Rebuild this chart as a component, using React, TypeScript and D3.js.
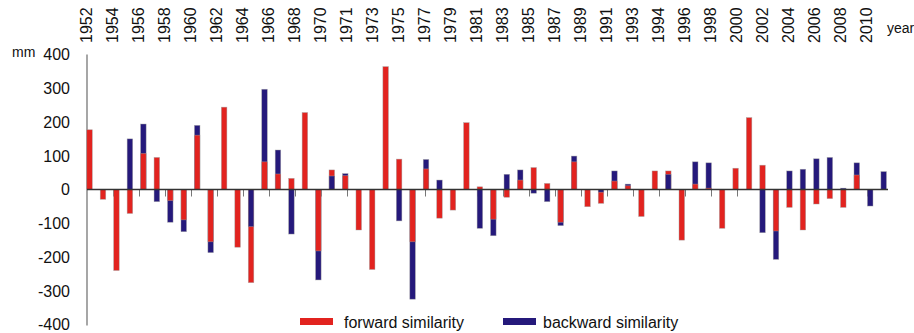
import React from 'react';
import * as d3 from 'd3';

const years = [
  1952, 1953, 1954, 1955, 1956, 1957, 1958, 1959, 1960, 1961,
  1962, 1963, 1964, 1965, 1966, 1967, 1968, 1969, 1970, 1971,
  1972, 1973, 1974, 1975, 1976, 1977, 1978, 1979, 1980, 1981,
  1982, 1983, 1984, 1985, 1986, 1987, 1988, 1989, 1990, 1991,
  1992, 1993, 1994, 1995, 1996, 1997, 1998, 1999, 2000, 2001,
  2002, 2003, 2004, 2005, 2006, 2007, 2008, 2009, 2010, 2011,
];

// forward similarity (mm)
const forward = [
  177, -29, -240, -71, 107, 95, -33, -90, 161, -155,
  244, -171, -276, 82, 46, 33, 228, -182, 58, 41,
  -120, -237, 364, 90, -155, 61, -85, -61, 198, 8,
  -88, -23, 28, 65, 18, -97, 82, -51, -41, 25,
  11, -80, 55, 55, -150, 16, 4, -115, 63, 213,
  72, -123, -53, -120, -43, -27, -53, 43, 0, 0,
];

// backward similarity (mm)
const backward = [
  0, 0, 0, 150, 194, -36, -97, -125, 190, -187,
  0, 0, -110, 297, 117, -132, 0, -268, 40, 47,
  0, 0, 0, -93, -325, 89, 28, 0, 0, -115,
  -137, 45, 58, -11, -36, -107, 99, 0, -8, 55,
  16, 0, 0, 45, 0, 82, 79, 0, 0, 0,
  -128, -207, 55, 60, 91, 95, 4, 79, -49, 53,
];

// labels printed along the top (evenly spaced, every other slot)
const topLabels = [
  '1952', '1954', '1956', '1958', '1960', '1962', '1964', '1966', '1968', '1970',
  '1971', '1973', '1975', '1977', '1979', '1981', '1983', '1985', '1987', '1989',
  '1991', '1993', '1994', '1996', '1998', '2000', '2002', '2004', '2006', '2008',
  '2010',
];

const yTicks = [400, 300, 200, 100, 0, -100, -200, -300, -400];

const RED = '#e2231f';
const BLUE = '#25197b';
const FONT = '"Liberation Sans", Arial, sans-serif';

export default function App() {
  const width = 914;
  const height = 333;
  const axisX = 87;

  const y = d3.scaleLinear().domain([-400, 400]).range([324.5, 54.5]);

  const x = d3
    .scaleBand<number>()
    .domain(years)
    .range([82.8, 890.4])
    .paddingInner(0.59)
    .paddingOuter(0.295);

  const xLab = d3.scalePoint<string>().domain(topLabels).range([87, 867]);

  // longer bar drawn first, shorter one sits in front
  const bars = years.flatMap((yr, i) => {
    const pair = [
      { key: 'f', color: RED, v: forward[i] },
      { key: 'b', color: BLUE, v: backward[i] },
    ];
    pair.sort((a, b) => Math.abs(b.v) - Math.abs(a.v));
    return pair.filter((d) => d.v !== 0).map((d) => ({ ...d, yr }));
  });

  const y0 = y(0);

  return (
    <svg
      width={width}
      height={height}
      style={{ position: 'absolute', left: 0, top: 0, background: '#fff' }}
      fontFamily={FONT}
    >
      {/* top year labels */}
      {topLabels.map((t) => (
        <text
          key={t}
          transform={`translate(${xLab(t)! - 1},43) rotate(-90)`}
          dy="0.35em"
          fontSize={16}
          fill="#111"
        >
          {t}
        </text>
      ))}
      <text x={887} y={33} fontSize={14} fill="#111">
        year
      </text>

      {/* y axis */}
      <text x={12} y={57} fontSize={14} fill="#111">
        mm
      </text>
      {yTicks.map((t) => (
        <text
          key={t}
          x={70}
          y={y(t)}
          dy="0.36em"
          textAnchor="end"
          fontSize={16}
          fill="#111"
        >
          {t}
        </text>
      ))}
      <line x1={axisX} x2={axisX} y1={y(400)} y2={y(-400) + 1} stroke="#777" strokeWidth={1.3} />

      {/* small ticks below zero line */}
      {topLabels.slice(1).map((t) => (
        <line
          key={t}
          x1={xLab(t)! + 0.5}
          x2={xLab(t)! + 0.5}
          y1={y0}
          y2={y0 + 7}
          stroke="#777"
          strokeWidth={1}
        />
      ))}

      {/* bars */}
      {bars.map((d) => (
        <rect
          key={`${d.yr}-${d.key}`}
          x={x(d.yr)}
          width={x.bandwidth()}
          y={Math.min(y(d.v), y0)}
          height={Math.abs(y(d.v) - y0)}
          fill={d.color}
          stroke="#a0a0a0"
          strokeWidth={0.6}
          strokeOpacity={0.7}
        />
      ))}

      {/* zero line */}
      <line x1={axisX} x2={888} y1={y0} y2={y0} stroke="#333" strokeWidth={1.4} />

      {/* legend */}
      <rect x={300} y={318} width={33} height={7} fill={RED} />
      <text x={344} y={328} fontSize={16} fill="#111">
        forward similarity
      </text>
      <rect x={503} y={318} width={33} height={7} fill={BLUE} />
      <text x={543} y={328} fontSize={16} fill="#111">
        backward similarity
      </text>
    </svg>
  );
}
